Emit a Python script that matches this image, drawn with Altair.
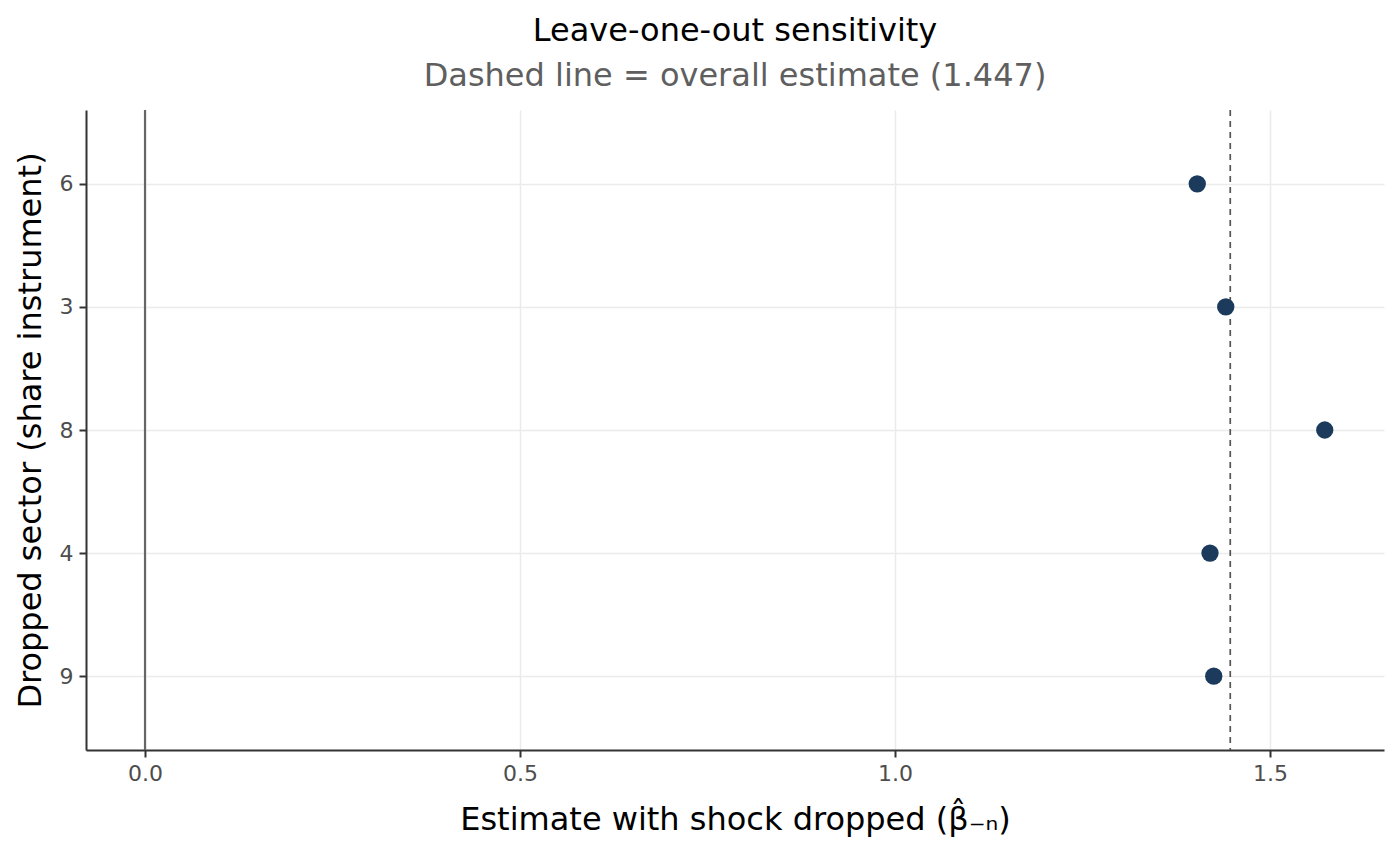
import altair as alt
import pandas as pd

# Leave-one-out estimates: each row drops one sector's shock
sectors = ["6", "3", "8", "4", "9"]
estimates = [1.403, 1.441, 1.573, 1.420, 1.425]
overall_estimate = 1.447

x_ticks = [0.0, 0.5, 1.0, 1.5]
x_domain = [-0.0787, 1.652]

points_df = pd.DataFrame({"sector": sectors, "estimate": estimates})
zero_df = pd.DataFrame({"x": [0.0]})
overall_df = pd.DataFrame({"x": [overall_estimate]})

x_scale = alt.Scale(domain=x_domain, nice=False, zero=False)

base_x = alt.X(
    "estimate:Q",
    scale=x_scale,
    axis=alt.Axis(
        values=x_ticks,
        format=".1f",
        title="Estimate with shock dropped (\u03b2\u0302\u208b\u2099)",
        grid=True,
    ),
)

points = alt.Chart(points_df).mark_circle(size=300, opacity=1, color="#1b3a5c").encode(
    x=base_x,
    y=alt.Y(
        "sector:N",
        sort=sectors,
        scale=alt.Scale(type="point", padding=0.6),
        axis=alt.Axis(title="Dropped sector (share instrument)", grid=True),
    ),
)

zero_line = alt.Chart(zero_df).mark_rule(color="#666666", strokeWidth=2.2).encode(
    x=alt.X("x:Q", scale=x_scale)
)

overall_line = alt.Chart(overall_df).mark_rule(
    color="#555555", strokeWidth=1.7, strokeDash=[6, 5]
).encode(x=alt.X("x:Q", scale=x_scale))

chart = (
    alt.layer(zero_line, overall_line, points)
    .properties(
        width=1298,
        height=640,
        title=alt.TitleParams(
            text="Leave-one-out sensitivity",
            subtitle="Dashed line = overall estimate (1.447)",
            anchor="middle",
            frame="group",
            fontSize=32,
            fontWeight="normal",
            font="DejaVu Sans",
            color="#000000",
            subtitleFontSize=32,
            subtitleFont="DejaVu Sans",
            subtitleColor="#5f5f5f",
            subtitlePadding=13,
            offset=16,
        ),
        autosize=alt.AutoSizeParams(type="none"),
        padding={"left": 86, "top": 110, "right": 16, "bottom": 116},
    )
    .configure_view(stroke=None)
    .configure_axis(
        labelFont="DejaVu Sans",
        titleFont="DejaVu Sans",
        labelFontSize=22,
        labelColor="#4d4d4d",
        titleFontSize=32,
        titleFontWeight="normal",
        titleColor="#000000",
        domainColor="#333333",
        domainWidth=2,
        tickColor="#333333",
        tickSize=7,
        tickWidth=2,
        gridColor="#ebebeb",
        gridWidth=1.5,
        labelPadding=6,
    )
    .configure_axisX(titlePadding=20)
    .configure_axisY(titlePadding=12)
)

chart.save("out.html", embed_options={"renderer": "svg", "actions": False})
